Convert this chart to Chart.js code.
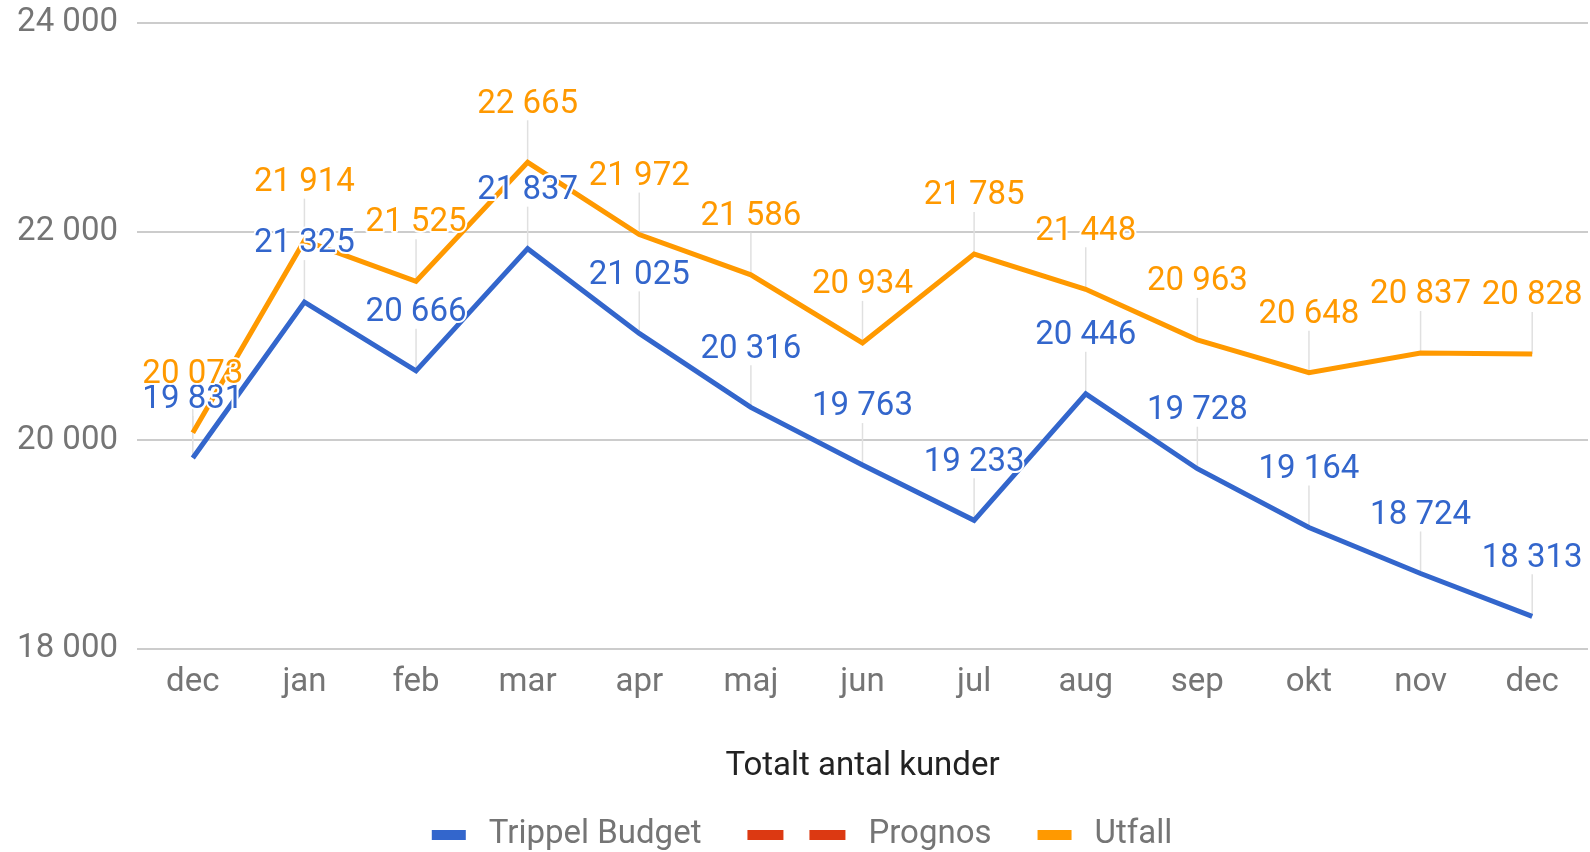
<!DOCTYPE html>
<html>
<head>
<meta charset="utf-8">
<title>Totalt antal kunder</title>
<script src="https://cdn.jsdelivr.net/npm/chart.js@4.4.1/dist/chart.umd.min.js"></script>
<style>
  html, body { margin: 0; padding: 0; background: #fff; }
</style>
</head>
<body>
<canvas id="kunderChart" width="1590" height="852"></canvas>
<script>
// data
const months = ['dec', 'jan', 'feb', 'mar', 'apr', 'maj', 'jun', 'jul', 'aug', 'sep', 'okt', 'nov', 'dec'];
const trippelBudget = [19831, 21325, 20666, 21837, 21025, 20316, 19763, 19233, 20446, 19728, 19164, 18724, 18313];
const prognos = []; // no values shown, legend only
const utfall = [20073, 21914, 21525, 22665, 21972, 21586, 20934, 21785, 21448, 20963, 20648, 20837, 20828];
const yTicks = [18000, 20000, 22000, 24000];

const FONT = 'Roboto';
const FSIZE = 33;
const GREY = '#757575';

function fmt(n) {
    return String(n).replace(/\B(?=(\d{3})+(?!\d))/g, ' ');
}

// stems + value labels above each point (google style annotations)
const annotations = {
    id: 'annotations',
    beforeDatasetsDraw(chart) {
        const ctx = chart.ctx;
        ctx.save();
        ctx.strokeStyle = '#e0e0e0';
        ctx.lineWidth = 1.5;
        chart.data.datasets.forEach((ds, i) => {
            chart.getDatasetMeta(i).data.forEach((pt, j) => {
                if (ds.data[j] == null) return;
                ctx.beginPath();
                ctx.moveTo(pt.x, pt.y);
                ctx.lineTo(pt.x, pt.y - 42);
                ctx.stroke();
            });
        });
        ctx.restore();
    },
    afterDatasetsDraw(chart) {
        const ctx = chart.ctx;
        ctx.save();
        ctx.font = FSIZE + 'px ' + FONT;
        ctx.textAlign = 'center';
        ctx.textBaseline = 'middle';
        ctx.lineJoin = 'round';
        chart.data.datasets.forEach((ds, i) => {
            chart.getDatasetMeta(i).data.forEach((pt, j) => {
                const v = ds.data[j];
                if (v == null) return;
                const txt = fmt(v);
                ctx.strokeStyle = '#fff';
                ctx.lineWidth = 4;
                ctx.strokeText(txt, pt.x, pt.y - 58);
                ctx.fillStyle = ds.borderColor;
                ctx.fillText(txt, pt.x, pt.y - 58);
            });
        });
        ctx.restore();
    }
};

// legend at the bottom, the dashed series gets a two-dash symbol
const bottomLegend = {
    id: 'bottomLegend',
    afterDraw(chart) {
        const ctx = chart.ctx;
        const y = 835;
        ctx.save();
        ctx.font = FSIZE + 'px ' + FONT;
        ctx.textBaseline = 'middle';
        const items = chart.data.datasets.map(ds => ({
            text: ds.label,
            color: ds.borderColor,
            dashed: Array.isArray(ds.borderDash) && ds.borderDash.length > 0
        }));
        const symW = it => it.dashed ? 98 : 34;
        const gap = 46, txtGap = 23;
        let total = 0;
        items.forEach((it, k) => {
            it.w = ctx.measureText(it.text).width;
            total += symW(it) + txtGap + it.w + (k ? gap : 0);
        });
        let x = chart.width / 2 + 7 - total / 2;
        items.forEach(it => {
            ctx.fillStyle = it.color;
            if (it.dashed) {
                ctx.fillRect(x, y - 5, 36, 10);
                ctx.fillRect(x + 62, y - 5, 36, 10);
            } else {
                ctx.fillRect(x, y - 5, 34, 10);
            }
            x += symW(it) + txtGap;
            ctx.fillStyle = GREY;
            ctx.fillText(it.text, x, y);
            x += it.w + gap;
        });
        ctx.restore();
    }
};

const ctx = document.getElementById('kunderChart').getContext('2d');
const chart = new Chart(ctx, {
    type: 'line',
    data: {
        labels: months,
        datasets: [{
            label: 'Trippel Budget',
            data: trippelBudget,
            borderColor: '#3366cc',
            borderWidth: 5,
            pointRadius: 0,
            tension: 0
        }, {
            label: 'Prognos',
            data: prognos,
            borderColor: '#dc3912',
            borderDash: [18, 12],
            borderWidth: 5,
            pointRadius: 0
        }, {
            label: 'Utfall',
            data: utfall,
            borderColor: '#ff9900',
            borderWidth: 5,
            pointRadius: 0,
            tension: 0
        }]
    },
    options: {
        responsive: false,
        animation: false,
        layout: {
            padding: { top: 23, right: 2, bottom: 60, left: 0 }
        },
        plugins: {
            legend: { display: false },
            tooltip: { enabled: false }
        },
        scales: {
            x: {
                offset: true,
                grid: { display: false },
                border: { display: false },
                ticks: {
                    color: GREY,
                    padding: 6,
                    font: { family: FONT, size: FSIZE }
                },
                title: {
                    display: true,
                    text: 'Totalt antal kunder',
                    color: '#222',
                    font: { family: FONT, size: FSIZE },
                    padding: { top: 0, bottom: 5 }
                },
                afterFit(scale) {
                    scale.height = 143;
                    scale.paddingLeft = 0;
                    scale.paddingRight = 0;
                }
            },
            y: {
                min: yTicks[0],
                max: yTicks[yTicks.length - 1],
                afterBuildTicks(scale) {
                    scale.ticks = yTicks.map(v => ({ value: v }));
                },
                grid: {
                    color: '#cccccc',
                    lineWidth: 2,
                    drawTicks: false
                },
                border: { display: false },
                ticks: {
                    color: GREY,
                    padding: 19,
                    font: { family: FONT, size: FSIZE },
                    callback: v => fmt(v)
                },
                afterFit(scale) {
                    scale.width = 137;
                    scale.paddingTop = 0;
                    scale.paddingBottom = 0;
                }
            }
        }
    },
    plugins: [annotations, bottomLegend]
});
</script>
</body>
</html>
